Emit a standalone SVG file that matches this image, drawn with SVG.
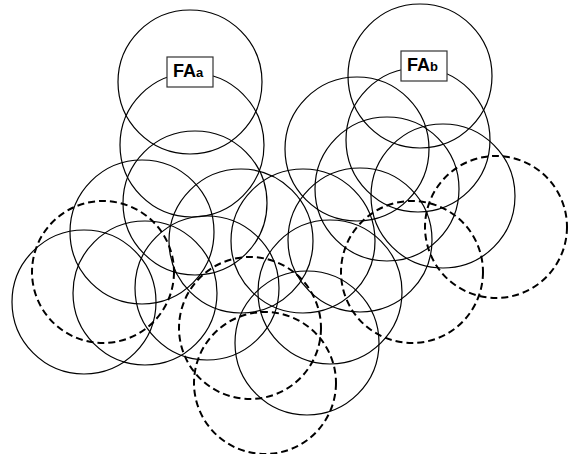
<svg xmlns="http://www.w3.org/2000/svg" width="572" height="454" viewBox="0 0 572 454">
<style>
.c{fill:none;stroke:#000;stroke-width:1.2}
.d{fill:none;stroke:#000;stroke-width:2;stroke-dasharray:7 4}
.box{fill:#fff;stroke:#333;stroke-width:1.2}
.t{font-family:"Liberation Sans",Arial,sans-serif;font-weight:bold;fill:#000;font-size:18px}
</style>
<rect width="572" height="454" fill="#fff"/>
<g id="cells">
<circle id="c1" class="c" cx="190" cy="82" r="72"/>
<circle id="c2" class="c" cx="192" cy="145" r="72"/>
<circle id="c3" class="c" cx="195" cy="203" r="72"/>
<circle id="c4" class="c" cx="142" cy="232" r="72"/>
<circle id="c5" class="c" cx="84" cy="302" r="72"/>
<circle id="c6" class="c" cx="145" cy="293" r="72"/>
<circle id="c7" class="c" cx="207" cy="288" r="72"/>
<circle id="c8" class="c" cx="241" cy="241" r="72"/>
<circle id="c9" class="c" cx="303" cy="241" r="72"/>
<circle id="c10" class="c" cx="307" cy="343" r="72"/>
<circle id="c11" class="c" cx="420" cy="76" r="72"/>
<circle id="c12" class="c" cx="357" cy="149" r="72"/>
<circle id="c13" class="c" cx="418" cy="140" r="72"/>
<circle id="c14" class="c" cx="387" cy="189" r="72"/>
<circle id="c15" class="c" cx="443" cy="196" r="72"/>
<circle id="c16" class="c" cx="360" cy="240" r="72"/>
<circle id="c17" class="c" cx="330" cy="292" r="72"/>
<circle id="d1" class="d" cx="103" cy="272" r="71"/>
<circle id="d2" class="d" cx="250" cy="328" r="71"/>
<circle id="d3" class="d" cx="265" cy="383" r="71"/>
<circle id="d4" class="d" cx="412" cy="272" r="71"/>
<circle id="d5" class="d" cx="496" cy="227" r="71"/>
</g>
<g id="connectors"></g>
<g id="FAa">
<rect class="box" x="167" y="57" width="46" height="30"/>
<text class="t" x="173" y="77">FA<tspan font-size="13">a</tspan></text>
</g>
<g id="FAb">
<rect class="box" x="401" y="51" width="46" height="30"/>
<text class="t" x="407" y="71">FA<tspan font-size="13">b</tspan></text>
</g>
</svg>
